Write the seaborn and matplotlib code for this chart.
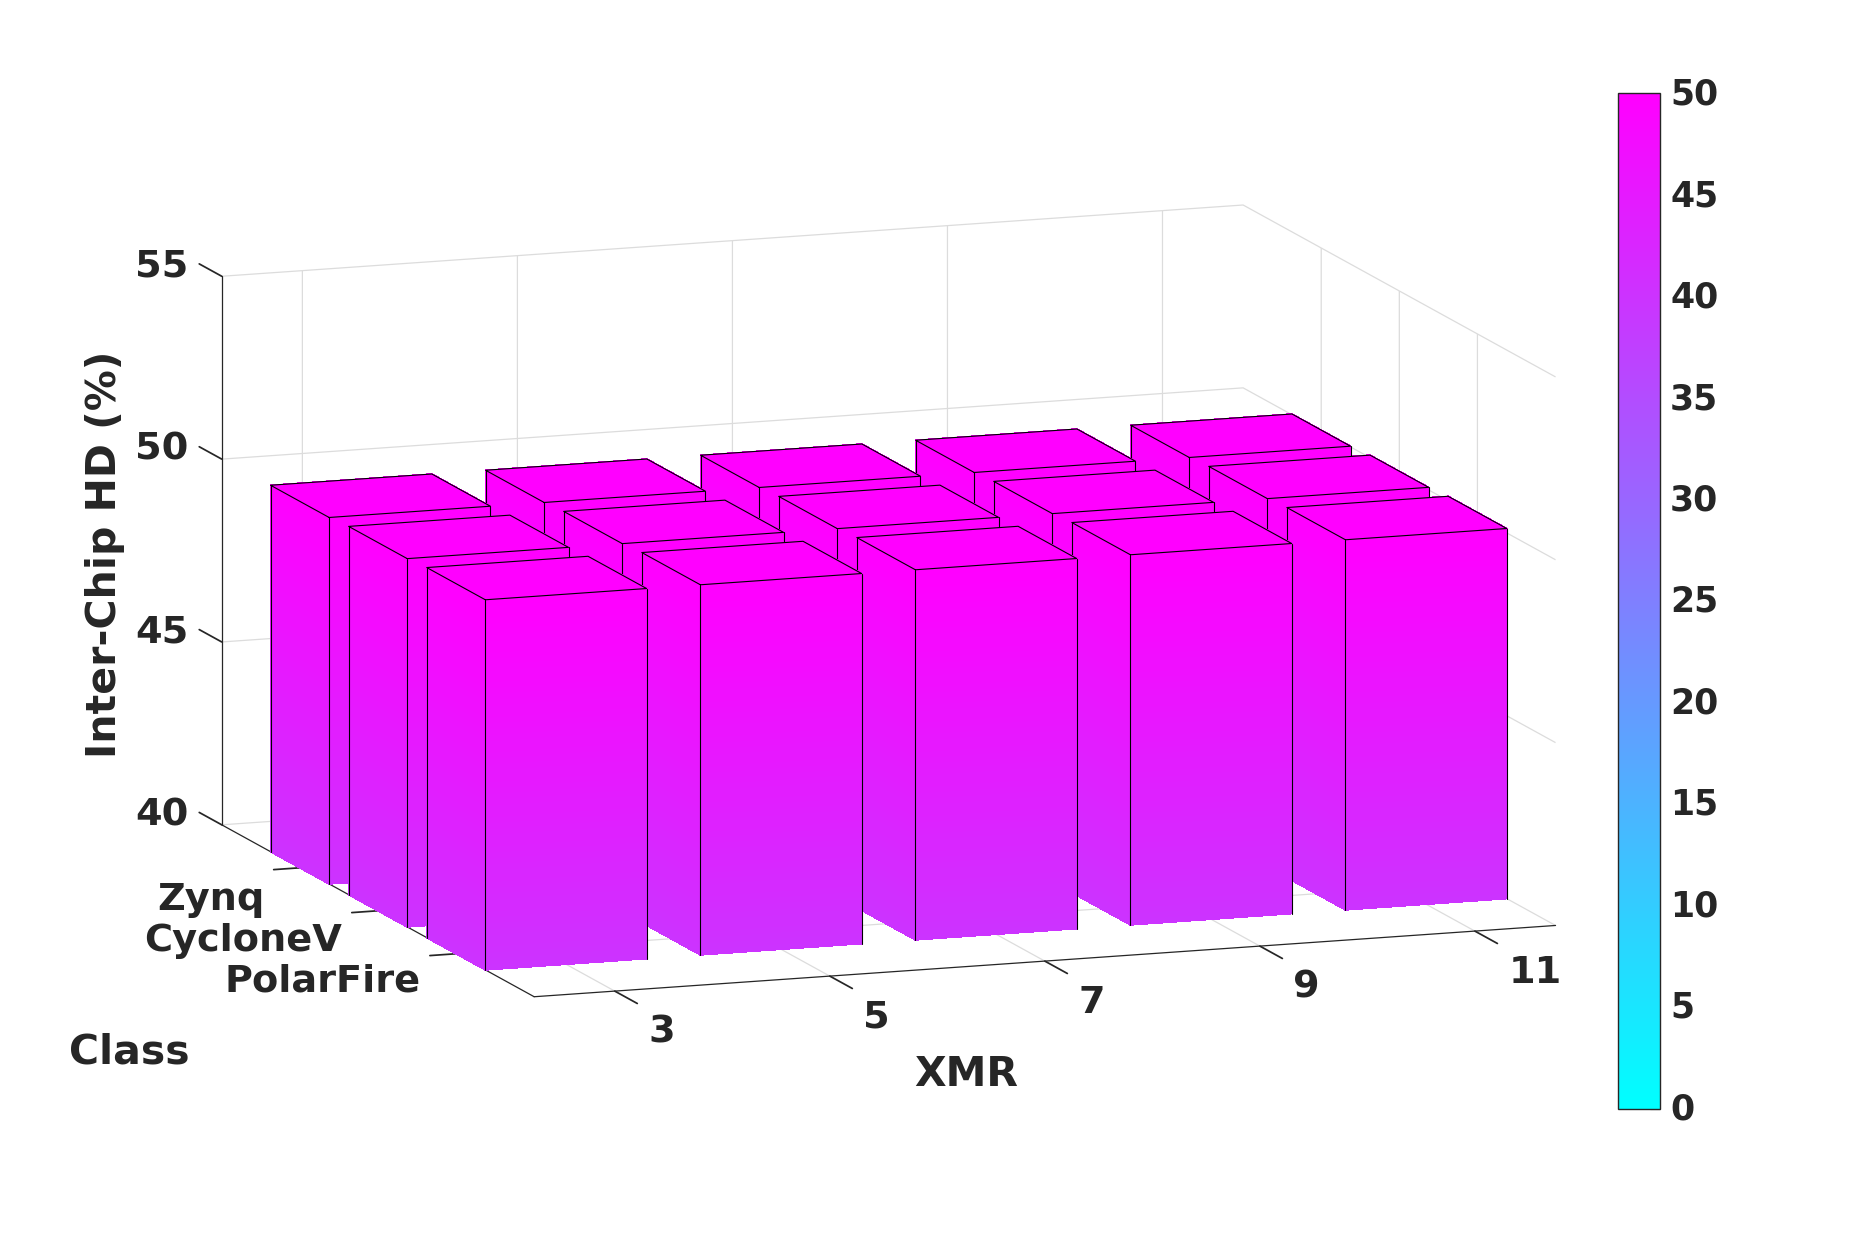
import numpy as np
import matplotlib
matplotlib.use("Agg")
import matplotlib.pyplot as plt
import seaborn as sns
from matplotlib.cm import ScalarMappable
from matplotlib.colors import Normalize
from mpl_toolkits.mplot3d import proj3d
from mpl_toolkits.mplot3d.art3d import Poly3DCollection

# chart values
xmr_labels = ["3", "5", "7", "9", "11"]
class_labels = ["PolarFire", "CycloneV", "Zynq"]
polarfire_hd = [50.12, 50.12, 50.12, 50.12, 50.12]
cyclonev_hd = [50.07, 50.07, 50.07, 50.07, 50.07]
zynq_hd = [50.02, 50.02, 50.02, 50.02, 50.02]
z_ticks = [40, 45, 50, 55]
cbar_ticks = [0, 5, 10, 15, 20, 25, 30, 35, 40, 45, 50]

W, H = 1865, 1246
BAR = 0.75
Z_FLOOR = 40
TEXT = "#262626"

sns.set_theme(style="white")
plt.rcParams["font.family"] = "DejaVu Sans"
plt.rcParams["font.weight"] = "bold"
plt.rcParams["grid.color"] = "#dcdcdc"
plt.rcParams["grid.linewidth"] = 0.9
cool = sns.color_palette("cool", as_cmap=True)
norm = Normalize(0, 50.1)

fig = plt.figure(figsize=(W / 100, H / 100), dpi=100)
side = 1490
ax = fig.add_axes([123.5 / W, -120 / H, side / W, side / H], projection="3d", computed_zorder=False)
ax.set_proj_type("ortho")
ax.view_init(elev=11.3, azim=-109.6)
ax.set_box_aspect((1081.5, 929, 558))
x_min, x_max = 1 - BAR / 2, 5 + BAR / 2
ax.set_xlim(x_min, x_max)
ax.set_ylim(0, 4)
ax.set_zlim(40, 55)
ax.patch.set_alpha(0)


def draw_bar(x, y, top, order):
    x0, x1 = x - BAR / 2, x + BAR / 2
    y0, y1 = y - BAR / 2, y + BAR / 2
    levels = np.linspace(Z_FLOOR, top, 64)
    polys, colors = [], []
    for z0, z1 in zip(levels[:-1], levels[1:]):
        c = cool(norm((z0 + z1) / 2))
        polys.append([(x0, y0, z0), (x1, y0, z0), (x1, y0, z1), (x0, y0, z1)])
        colors.append(c)
        polys.append([(x0, y0, z0), (x0, y1, z0), (x0, y1, z1), (x0, y0, z1)])
        colors.append(c)
    polys.append([(x0, y0, top), (x1, y0, top), (x1, y1, top), (x0, y1, top)])
    colors.append(cool(norm(top)))
    faces = Poly3DCollection(polys, facecolors=colors, edgecolors=colors, linewidths=0.5,
                             antialiaseds=False, zorder=order)
    ax.add_collection3d(faces)
    # no bottom edge, the bars are cut by the floor
    edge = dict(color="black", lw=0.8, zorder=order + 0.5)
    ax.plot([x0, x1, x1, x0, x0], [y0, y0, y1, y1, y0], [top] * 5, **edge)
    ax.plot([x0, x0], [y0, y0], [Z_FLOOR, top], **edge)
    ax.plot([x1, x1], [y0, y0], [Z_FLOOR, top], **edge)
    ax.plot([x0, x0], [y1, y1], [Z_FLOOR, top], **edge)


def tick_text(x, y, z, label, ha):
    # plain 2D text at the projected spot of a 3D point
    px, py, _ = proj3d.proj_transform(x, y, z, ax.get_proj())
    ax.text2D(px, py, label, transform=ax.transData, ha=ha, va="center",
              fontsize=27.5, fontweight="bold", color=TEXT)


# back row first, right to left inside a row
rows = [polarfire_hd, cyclonev_hd, zynq_hd]
order = 10
for j in [2, 1, 0]:
    for i in [4, 3, 2, 1, 0]:
        draw_bar(i + 1, j + 1, rows[j][i], order)
        order += 1

ax.set_xticks(range(1, 6))
ax.set_yticks([1, 2, 3])
ax.set_zticks(z_ticks)
ax.grid(True)
# z ticks run along y here, as in the MATLAB original
ax.zaxis._get_tickdir = lambda pos: 1
for axis, out in [(ax.xaxis, -0.9), (ax.yaxis, -0.32), (ax.zaxis, 0.9)]:
    axis.set_pane_color((1, 1, 1, 0))
    axis.pane.set_edgecolor((1, 1, 1, 0))
    axis.line.set_color(TEXT)
    axis.line.set_linewidth(0.9)
    axis._axinfo["tick"]["inward_factor"] = 0
    axis._axinfo["tick"]["outward_factor"] = out
    axis._axinfo["tick"]["color"] = TEXT
    # the labels are placed by hand below
    for tick in axis.get_major_ticks():
        tick.label1.set_visible(False)
ax.tick_params(axis="both", width=0.8, color=TEXT)

# tick labels placed by hand, mplot3d pad only moves them along one direction
for i, label in enumerate(xmr_labels):
    tick_text(i + 1, -0.43, 39.37, label, "left")
for j, label in enumerate(class_labels):
    tick_text(0.46, j + 1, 39.25 + (1 - j) * 0.065, label, "right")
for t in z_ticks:
    tick_text(x_min, 4.43, t - 0.24, str(t), "right")

fig.text(966 / W, 1 - 1075.5 / H, "XMR", fontsize=29.5, fontweight="bold", color=TEXT, ha="center", va="center")
fig.text(129 / W, 1 - 1053 / H, "Class", fontsize=29.5, fontweight="bold", color=TEXT, ha="center", va="center")
fig.text(105 / W, 1 - 554 / H, "Inter-Chip HD (%)", fontsize=29.5, fontweight="bold", color=TEXT,
         rotation=90, ha="center", va="center")

cax = fig.add_axes([1618 / W, 1 - 1109 / H, 42 / W, (1109 - 92.8) / H])
cbar = fig.colorbar(ScalarMappable(norm=norm, cmap=cool), cax=cax, ticks=cbar_ticks)
cbar.ax.tick_params(direction="in", length=7.2, width=0.8, color=TEXT, labelsize=25, labelcolor=TEXT, pad=7.3)
for lab in cbar.ax.get_yticklabels():
    lab.set_va("center")
cbar.outline.set_edgecolor(TEXT)
cbar.outline.set_linewidth(1.0)

fig.savefig("out.png", dpi=100)
